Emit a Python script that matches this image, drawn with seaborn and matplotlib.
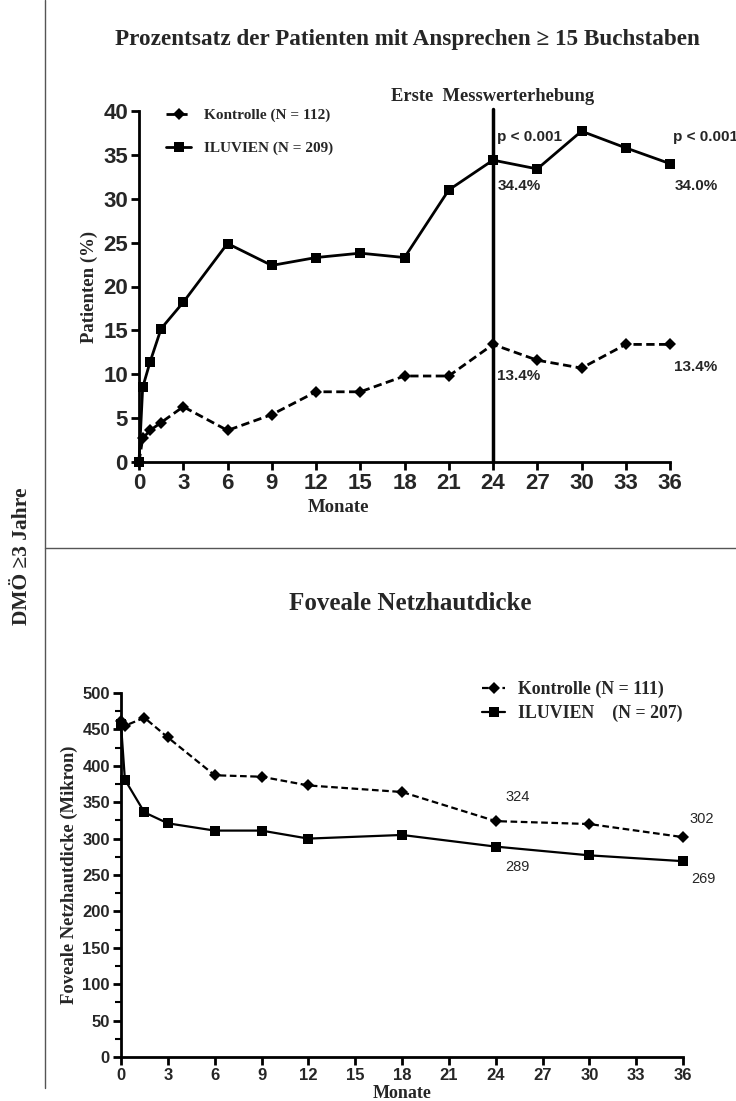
import numpy as np
import pandas as pd
import seaborn as sns
import matplotlib
matplotlib.use("Agg")
import matplotlib.pyplot as plt
from matplotlib.lines import Line2D
from matplotlib.ticker import MultipleLocator

# ---------------- data ----------------
top_months = [0, 0.25, 0.75, 1.5, 3, 6, 9, 12, 15, 18, 21, 24, 27, 30, 33, 36]
top_kontrolle = [0, 2.7, 3.6, 4.5, 6.3, 3.6, 5.4, 8.0, 8.0, 9.8, 9.8, 13.4, 11.6, 10.7, 13.4, 13.4]
top_iluvien = [0, 8.5, 11.4, 15.2, 18.2, 24.9, 22.4, 23.3, 23.8, 23.3, 31.0, 34.4, 33.4, 37.7, 35.8, 34.0]

bot_months = [0, 0.25, 1.5, 3, 6, 9, 12, 18, 24, 30, 36]
bot_kontrolle = [461, 455, 466, 439, 387, 385, 373, 364, 324, 320, 302]
bot_iluvien = [457, 381, 336, 321, 311, 311, 300, 305, 289, 277, 269]

top_labels = ["Kontrolle (N = 112)", "ILUVIEN (N = 209)"]
bot_labels = ["Kontrolle (N = 111)", "ILUVIEN    (N = 207)"]
month_ticks = list(range(0, 37, 3))

# ---------------- style ----------------
sns.set_style("ticks")
SERIF = ["Liberation Serif", "DejaVu Serif"]
NARROW = ["Liberation Sans", "DejaVu Sans"]
plt.rcParams["font.family"] = SERIF

W, H = 736, 1101
fig = plt.figure(figsize=(W / 100, H / 100), dpi=100)


def ax_rect(x0, x1, y0, y1):
    return [x0 / W, 1 - y1 / H, (x1 - x0) / W, (y1 - y0) / H]


def style_axes(ax, tick_size):
    sns.despine(ax=ax)
    for s in ("left", "bottom"):
        ax.spines[s].set_linewidth(2)
        ax.spines[s].set_color("black")
    ax.tick_params(axis="both", which="major", direction="out", length=6, width=2,
                   color="black", pad=2)
    ax.tick_params(axis="both", which="minor", direction="out", length=4, width=1.5,
                   color="black")
    for lab in ax.get_xticklabels() + ax.get_yticklabels():
        lab.set_family(NARROW)
        lab.set_fontweight("bold")
        lab.set_fontsize(tick_size)


dash = (0, (3, 1.6))

# ---------------- top chart ----------------
ax1 = fig.add_axes(ax_rect(139, 670, 111, 462))
sns.lineplot(x=top_months, y=top_kontrolle, ax=ax1, color="black", marker="D",
             markersize=6.5, linewidth=2, linestyle=dash, label=top_labels[0],
             clip_on=False, markeredgewidth=0)
sns.lineplot(x=top_months, y=top_iluvien, ax=ax1, color="black", marker="s",
             markersize=7.5, linewidth=2, linestyle="-", label=top_labels[1],
             clip_on=False, markeredgewidth=0)
ax1.axvline(24, ymin=0, ymax=1.006, color="black", linewidth=2.5, clip_on=False)
ax1.set_xlim(0, 36)
ax1.set_ylim(0, 40)
ax1.set_xticks(month_ticks)
ax1.set_yticks(range(0, 41, 5))
ax1.set_xlabel("Monate", fontsize=13.5, fontweight="bold", labelpad=2)
ax1.xaxis.set_label_coords(0.375, -0.105)
ax1.set_ylabel("Patienten (%)", fontsize=13.5, fontweight="bold", labelpad=4)
style_axes(ax1, 16)
leg1 = ax1.legend(loc="upper left", bbox_to_anchor=(0.04, 1.025), frameon=False,
                  borderaxespad=0, labelspacing=1.25, handlelength=1.6,
                  handletextpad=0.85,
                  prop={"family": SERIF, "weight": "bold", "size": 11})

ann = dict(fontsize=11, fontweight="bold", family=NARROW, va="center", ha="left")
ax1.text(24.3, 37.0, "p < 0.001", **ann)
ax1.text(36.2, 37.0, "p < 0.001", clip_on=False, **ann)
ax1.text(24.3, 31.5, "34.4%", **ann)
ax1.text(36.3, 31.5, "34.0%", clip_on=False, **ann)
ax1.text(24.3, 9.8, "13.4%", **ann)
ax1.text(36.3, 10.8, "13.4%", clip_on=False, **ann)
ax1.text(24, 41.6, "Erste  Messwerterhebung", fontsize=13.3, fontweight="bold",
         ha="center", va="center")

fig.text(407 / W, 1 - 40 / H, "Prozentsatz der Patienten mit Ansprechen \u2265 15 Buchstaben",
         ha="center", va="center", fontsize=16.7, fontweight="bold")

# ---------------- bottom chart ----------------
ax2 = fig.add_axes(ax_rect(121, 683, 693, 1057))
sns.lineplot(x=bot_months, y=bot_kontrolle, ax=ax2, color="black", marker="D",
             markersize=6, linewidth=1.6, linestyle=dash, label=bot_labels[0],
             clip_on=False, markeredgewidth=0)
sns.lineplot(x=bot_months, y=bot_iluvien, ax=ax2, color="black", marker="s",
             markersize=6.5, linewidth=1.6, linestyle="-", label=bot_labels[1],
             clip_on=False, markeredgewidth=0)
ax2.set_xlim(0, 36)
ax2.set_ylim(0, 500)
ax2.set_xticks(month_ticks)
ax2.set_yticks(range(0, 501, 50))
ax2.yaxis.set_minor_locator(MultipleLocator(25))
ax2.set_xlabel("Monate", fontsize=13, fontweight="bold", labelpad=1)
ax2.set_ylabel("Foveale Netzhautdicke (Mikron)", fontsize=13.4, fontweight="bold",
               labelpad=3)
style_axes(ax2, 12)
leg2 = ax2.legend(loc="upper right", bbox_to_anchor=(1.012, 1.052), frameon=False,
                  borderaxespad=0, labelspacing=0.35, handlelength=1.3,
                  handletextpad=0.73,
                  prop={"family": SERIF, "weight": "bold", "size": 12.8})

ann2 = dict(fontsize=10.5, family=NARROW, va="center", ha="center")
ax2.text(25.4, 357, "324", **ann2)
ax2.text(37.2, 327, "302", clip_on=False, **ann2)
ax2.text(25.4, 261, "289", **ann2)
ax2.text(37.3, 244, "269", clip_on=False, **ann2)

fig.text(410 / W, 1 - 603 / H, "Foveale Netzhautdicke", ha="center", va="center",
         fontsize=18, fontweight="bold")

# ---------------- frame lines & side label ----------------
fig.add_artist(Line2D([45 / W, 45 / W], [1.0, 1 - 1088 / H], color="#555555", linewidth=1,
                      transform=fig.transFigure))
fig.add_artist(Line2D([45 / W, 1.0], [1 - 548 / H, 1 - 548 / H], color="#555555",
                      linewidth=1, transform=fig.transFigure))
fig.text(22 / W, 1 - 556 / H, "DM\u00d6 \u22653 Jahre", rotation=90, ha="center",
         va="center", fontsize=15.5, fontweight="bold")

fig.savefig("out.png", dpi=100)
